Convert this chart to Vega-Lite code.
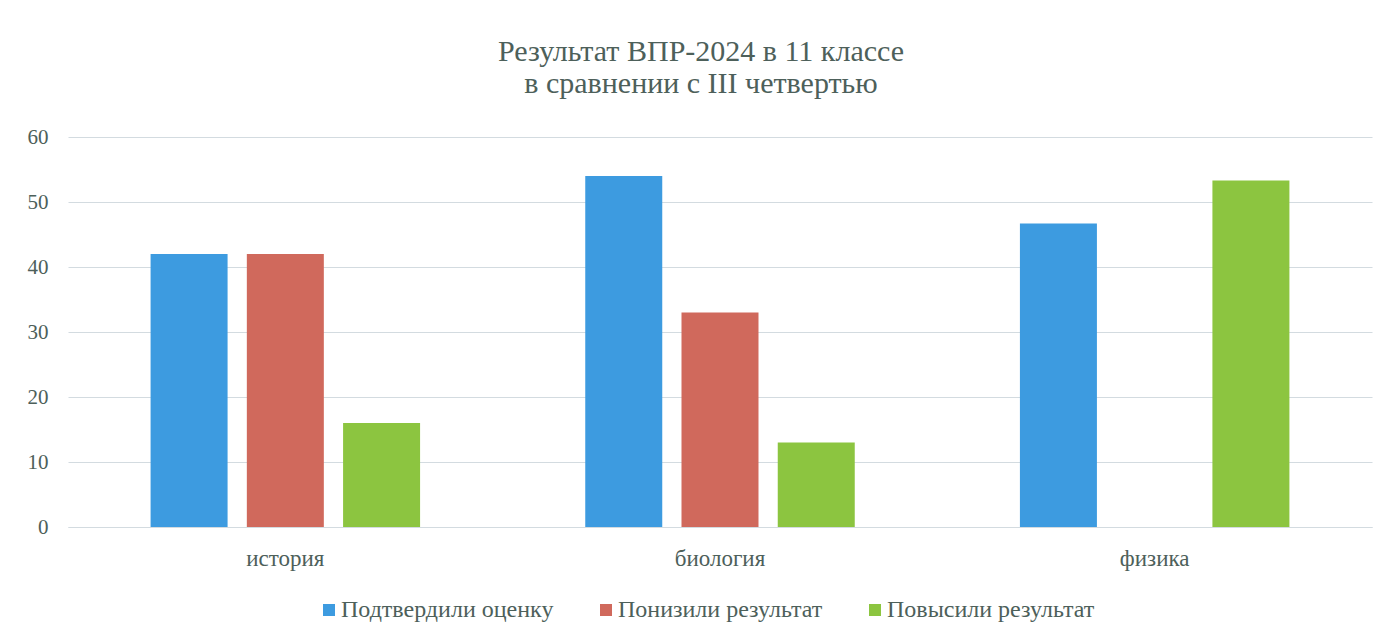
{
  "$schema": "https://vega.github.io/schema/vega-lite/v6.json",
  "width": 1304,
  "height": 390,
  "autosize": "none",
  "padding": {"left": 68, "top": 137, "right": 1, "bottom": 110},
  "background": "white",
  "config": {
    "font": "Liberation Serif",
    "view": {"stroke": null},
    "axis": {"labelFont": "Liberation Serif"},
    "legend": {"labelFont": "Liberation Serif"},
    "title": {"font": "Liberation Serif"}
  },
  "title": {
    "text": ["Результат ВПР-2024 в 11 классе", "в сравнении с III четвертью"],
    "font": "Liberation Serif",
    "fontSize": 30,
    "fontWeight": "normal",
    "color": "#4d605a",
    "anchor": "middle",
    "dx": -19,
    "lineHeight": 32,
    "offset": 27
  },
  "data": {
    "values": [
      {"subject": "история", "group": "Подтвердили оценку", "value": 42},
      {"subject": "история", "group": "Понизили результат", "value": 42},
      {"subject": "история", "group": "Повысили результат", "value": 16},
      {"subject": "биология", "group": "Подтвердили оценку", "value": 54},
      {"subject": "биология", "group": "Понизили результат", "value": 33},
      {"subject": "биология", "group": "Повысили результат", "value": 13},
      {"subject": "физика", "group": "Подтвердили оценку", "value": 46.7},
      {"subject": "физика", "group": "Повысили результат", "value": 53.3}
    ]
  },
  "mark": {"type": "bar"},
  "encoding": {
    "x": {
      "field": "subject",
      "type": "nominal",
      "sort": ["история", "биология", "физика"],
      "scale": {"paddingInner": 0.38, "paddingOuter": 0.19},
      "axis": {
        "title": null,
        "labelAngle": 0,
        "labelFont": "Liberation Serif",
        "labelFontSize": 23,
        "labelColor": "#4d605a",
        "labelPadding": 20,
        "ticks": false,
        "domain": true,
        "domainColor": "#d3dbe0",
        "grid": false
      }
    },
    "xOffset": {
      "field": "group",
      "type": "nominal",
      "sort": ["Подтвердили оценку", "Понизили результат", "Повысили результат"],
      "scale": {"paddingInner": 0.2, "paddingOuter": 0}
    },
    "y": {
      "field": "value",
      "type": "quantitative",
      "scale": {"domain": [0, 60], "nice": false},
      "axis": {
        "title": null,
        "values": [0, 10, 20, 30, 40, 50, 60],
        "labelFont": "Liberation Serif",
        "labelFontSize": 21,
        "labelColor": "#4d605a",
        "labelPadding": 20,
        "ticks": false,
        "domain": false,
        "gridColor": "#d3dbe0"
      }
    },
    "color": {
      "field": "group",
      "type": "nominal",
      "sort": ["Подтвердили оценку", "Понизили результат", "Повысили результат"],
      "scale": {
        "domain": ["Подтвердили оценку", "Понизили результат", "Повысили результат"],
        "range": ["#3d9be0", "#d0695c", "#8cc540"]
      },
      "legend": {
        "title": null,
        "orient": "none",
        "direction": "horizontal",
        "legendX": 249,
        "legendY": 461,
        "symbolType": "square",
        "symbolSize": 144,
        "symbolStrokeWidth": 0,
        "labelFont": "Liberation Serif",
        "labelFontSize": 24,
        "labelLimit": 400,
        "labelColor": "#4d605a",
        "labelOffset": 0,
        "columnPadding": 40
      }
    }
  }
}
